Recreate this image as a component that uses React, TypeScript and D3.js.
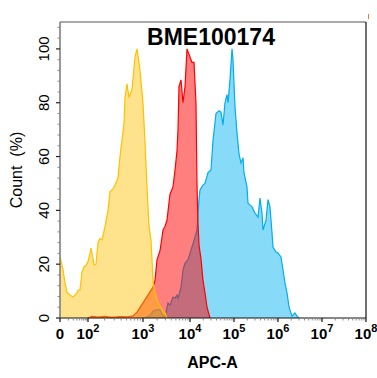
import React from "react";
import * as d3 from "d3";

// Histogram data: x = log10(APC-A) (1 = "0" on the axis), y = Count (%)
const yellowX = [1.0, 1.107, 1.179, 1.25, 1.357, 1.464, 1.536, 1.607, 1.643, 1.714, 1.786, 1.857, 1.929, 2.0, 2.036, 2.055, 2.091, 2.109, 2.145, 2.182, 2.218, 2.255, 2.309, 2.364, 2.4, 2.455, 2.491, 2.545, 2.582, 2.618, 2.655, 2.673, 2.709, 2.745, 2.8, 2.855, 2.891, 2.945, 3.0, 3.043, 3.085, 3.128, 3.17, 3.191, 3.213, 3.298, 3.362, 3.426, 3.468, 3.511];
const yellowY = [22.7, 18, 13, 9.7, 8.5, 7.8, 8.5, 9.3, 10.4, 10.4, 17, 19, 19.5, 21, 24, 26, 22, 19.7, 20, 28, 29.5, 29, 34, 40, 47, 48, 49.4, 52, 60, 66, 72.5, 82, 87, 82, 85, 97, 100, 92, 80, 65, 48.7, 34, 29, 22, 13, 6.7, 4.5, 2.5, 1.9, 0];

const redX = [2.0, 2.073, 2.182, 2.309, 2.436, 2.582, 2.727, 2.818, 2.891, 3.0, 3.149, 3.213, 3.255, 3.298, 3.362, 3.404, 3.426, 3.468, 3.511, 3.574, 3.638, 3.681, 3.723, 3.745, 3.766, 3.809, 3.851, 3.894, 3.936, 4.0, 4.045, 4.091, 4.136, 4.159, 4.182, 4.205, 4.25, 4.295, 4.341, 4.386, 4.455];
const redY = [0, 0.6, 0.3, 0.6, 0.2, 0.5, 0.4, 0.8, 2.2, 5.6, 9.7, 11.5, 14, 21.6, 25, 30, 32.7, 34, 36.4, 46, 48.7, 55, 62, 70, 86, 88.5, 80, 86, 100, 97, 95, 95, 80, 50, 35, 27, 22, 14, 9.3, 4, 0];

const blueX = [3.043, 3.149, 3.213, 3.277, 3.362, 3.426, 3.468, 3.532, 3.574, 3.638, 3.681, 3.723, 3.745, 3.809, 3.851, 3.894, 3.957, 4.045, 4.114, 4.159, 4.182, 4.205, 4.227, 4.295, 4.341, 4.409, 4.477, 4.523, 4.591, 4.659, 4.705, 4.75, 4.795, 4.841, 4.864, 4.909, 4.955, 4.977, 5.023, 5.068, 5.114, 5.159, 5.205, 5.227, 5.295, 5.318, 5.409, 5.477, 5.545, 5.591, 5.636, 5.659, 5.727, 5.773, 5.818, 5.864, 5.886, 5.955, 6.0, 6.068, 6.114, 6.159, 6.205, 6.25, 6.318, 6.386, 6.432, 6.477];
const blueY = [0, 1, 2.5, 3, 3, 0.8, 0.4, 5.6, 4.8, 7.8, 7.4, 8.5, 7.4, 11.5, 17.8, 20.4, 21.6, 26.4, 30, 32.7, 39, 44, 47.6, 49.4, 50, 54, 55, 66, 76, 77, 76.5, 71.7, 80, 83, 80, 88.5, 100, 96, 78.4, 68.8, 61, 57.6, 59.5, 54, 48.7, 42.7, 41.3, 39, 37.5, 44.6, 39, 32.7, 36.4, 44, 41.3, 31.6, 26.4, 24.5, 24.2, 22.7, 17.8, 13, 9.3, 4.1, 0.7, 1.9, 0.7, 0];

const xTickVals = [1, 2, 3, 4, 5, 6, 7, 8];
const xTickExp = ["", "2", "3", "4", "5", "6", "7", "8"];
const yTickVals = [0, 20, 40, 60, 80, 100];

const title = "BME100174";
const xLabel = "APC-A";
const yLabel = "Count  (%)";

const W = 377;
const H = 378;
const L = 60, R = 366, T = 22, B = 318;

export default function App() {
  // piecewise (biexponential-like) display scale
  const x = d3.scaleLinear().domain(xTickVals).range([60, 88, 143, 190, 234, 278, 322, 366]);
  const y = d3.scaleLinear().domain([0, 110]).range([B, T]);

  const mk = (xs: number[], ys: number[]) => xs.map((v, i) => [v, ys[i]] as [number, number]);
  const area = d3.area<[number, number]>().x((d) => x(d[0])).y0(y(0)).y1((d) => y(d[1]));
  const line = d3.line<[number, number]>().x((d) => x(d[0])).y((d) => y(d[1]));

  const series = [
    { data: mk(blueX, blueY), fill: "rgba(0,176,240,0.47)", stroke: "#00AEEF" },
    { data: mk(redX, redY), fill: "rgba(255,0,0,0.5)", stroke: "#FF0000" },
    { data: mk(yellowX, yellowY), fill: "rgba(255,192,0,0.45)", stroke: "#FFC000" },
  ];

  const xMinor: number[] = [];
  for (let d = 1; d < 8; d++) {
    for (let k = 2; k <= 9; k++) {
      const t = d + Math.log10(k);
      if (t > 1) xMinor.push(t);
    }
  }
  const yMinor: number[] = d3.range(0, 110, 4).filter((v) => v % 20 !== 0);

  const font = "Arial, 'Liberation Sans', sans-serif";

  return (
    <svg width={W} height={H} style={{ position: "absolute", left: 0, top: 0, background: "#fff" }} fontFamily={font}>
      <defs>
        <clipPath id="plotclip">
          <rect x={L} y={T} width={R - L} height={B - T} />
        </clipPath>
      </defs>
      <g clipPath="url(#plotclip)">
        {series.map((s, i) => (
          <g key={i}>
            <path d={area(s.data) || ""} fill={s.fill} stroke="none" />
            <path d={line(s.data) || ""} fill="none" stroke={s.stroke} strokeWidth={1.2} />
          </g>
        ))}
      </g>
      {/* frame */}
      <line x1={L} y1={T} x2={R} y2={T} stroke="#555" strokeWidth={1} />
      <line x1={R} y1={T} x2={R} y2={B} stroke="#111" strokeWidth={1.2} />
      <line x1={L} y1={B} x2={R} y2={B} stroke="#111" strokeWidth={1.2} />
      <line x1={L} y1={T} x2={L} y2={B} stroke="#777" strokeWidth={1.5} />
      {/* small mark top right */}
      <line x1={368.5} y1={14} x2={368.5} y2={19} stroke="#E07B39" strokeWidth={1} />
      {/* y ticks */}
      {yMinor.map((v) => (
        <line key={"ym" + v} x1={L - 2.5} x2={L} y1={y(v)} y2={y(v)} stroke="#888" strokeWidth={1} />
      ))}
      {yTickVals.map((v) => (
        <g key={"y" + v}>
          <line x1={L - 4} x2={L} y1={y(v)} y2={y(v)} stroke="#222" strokeWidth={1.2} />
          <text transform={`translate(48.5,${y(v)}) rotate(-90)`} textAnchor="middle" fontSize={15} fill="#000">
            {v}
          </text>
        </g>
      ))}
      {/* x ticks */}
      {xMinor.map((v, i) => (
        <line key={"xm" + i} x1={x(v)} x2={x(v)} y1={B} y2={B + 2.5} stroke="#888" strokeWidth={1} />
      ))}
      {xTickVals.map((v, i) => (
        <g key={"x" + v}>
          <line x1={x(v)} x2={x(v)} y1={B} y2={B + 4} stroke="#111" strokeWidth={1.2} />
          <text x={x(v)} y={338.5} textAnchor="middle" fontSize={15} fontWeight="bold" fill="#000">
            {i === 0 ? "0" : "10"}
            {i === 0 ? null : (
              <tspan dy={-6.5} fontSize={11}>
                {xTickExp[i]}
              </tspan>
            )}
          </text>
        </g>
      ))}
      {/* labels */}
      <text x={211} y={45} textAnchor="middle" fontSize={23} fontWeight="bold" fill="#000">
        {title}
      </text>
      <text x={212.5} y={368} textAnchor="middle" fontSize={16} fontWeight="bold" fill="#000">
        {xLabel}
      </text>
      <text transform="translate(21.5,170) rotate(-90)" textAnchor="middle" fontSize={16} fill="#000" style={{ whiteSpace: "pre" }}>
        {yLabel}
      </text>
    </svg>
  );
}
